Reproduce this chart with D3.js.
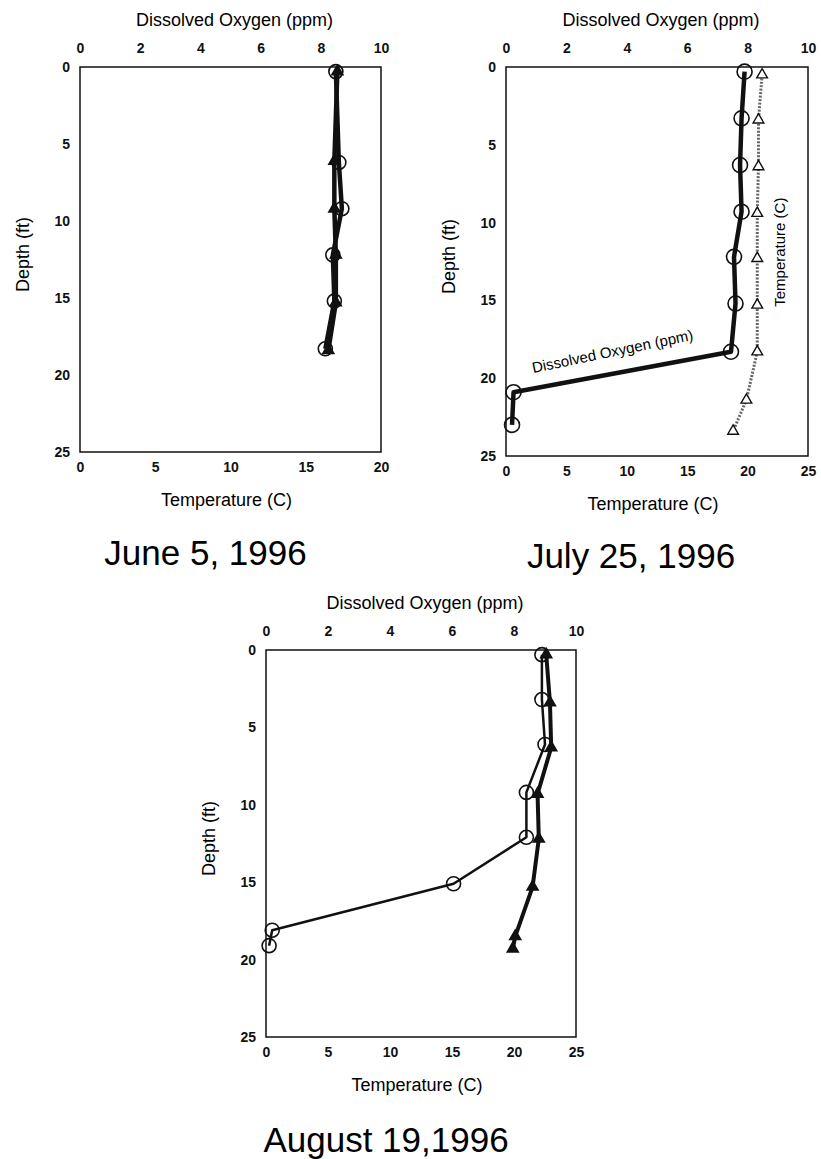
<!DOCTYPE html>
<html>
<head>
<meta charset="utf-8">
<script src="https://cdn.jsdelivr.net/npm/d3@7"></script>
<style>
  body { margin: 0; background: #fff; }
  svg { display: block; font-family: "Liberation Sans", Arial, sans-serif; }
</style>
</head>
<body>
<div id="chart"></div>
<script>
// depth profiles
const depthTicks = [0, 5, 10, 15, 20, 25];
const oxygenTicks = [0, 2, 4, 6, 8, 10];

const juneDepth = [0.3, 6.2, 9.2, 12.2, 15.2, 18.3];
const juneOxygen = [8.5, 8.6, 8.7, 8.4, 8.45, 8.15];
const juneTempDepth = [0.3, 6.1, 9.2, 12.2, 15.3, 18.4];
const juneTemp = [17.1, 16.9, 16.9, 17.0, 17.0, 16.5];
const juneTempTicks = [0, 5, 10, 15, 20];

const julyDepth = [0.3, 3.3, 6.3, 9.3, 12.2, 15.2, 18.3, 20.9, 23.0];
const julyOxygen = [7.9, 7.8, 7.75, 7.8, 7.55, 7.6, 7.45, 0.25, 0.2];
const julyTempDepth = [0.5, 3.4, 6.4, 9.4, 12.3, 15.3, 18.3, 21.4, 23.4];
const julyTemp = [21.2, 20.9, 20.9, 20.8, 20.8, 20.8, 20.8, 19.9, 18.8];
const julyTempTicks = [0, 5, 10, 15, 20, 25];

const augDepth = [0.3, 3.2, 6.1, 9.2, 12.1, 15.1, 18.1, 19.1];
const augOxygen = [8.9, 8.9, 9.0, 8.4, 8.4, 6.05, 0.2, 0.1];
const augTempDepth = [0.3, 3.4, 6.3, 9.3, 12.2, 15.3, 18.5, 19.3];
const augTemp = [22.6, 22.9, 23.0, 21.9, 22.0, 21.5, 20.1, 19.9];
const augTempTicks = [0, 5, 10, 15, 20, 25];

const svg = d3.select('#chart')
    .append('svg')
    .attr('width', 821)
    .attr('height', 1159);

function drawPanel(p) {
    const x = d3.scaleLinear().domain([0, 10]).range([p.left, p.right]);
    const t = d3.scaleLinear().domain([0, p.tempMax]).range([p.left, p.right]);
    const y = d3.scaleLinear().domain([0, 25]).range([p.top, p.bottom]);
    const midX = (p.left + p.right) / 2;

    const g = svg.append('g');

    g.append('rect')
        .attr('x', p.left)
        .attr('y', p.top)
        .attr('width', p.right - p.left)
        .attr('height', p.bottom - p.top)
        .style('fill', 'none')
        .style('stroke', '#111')
        .style('stroke-width', 1.5);

    const top = g.append('g')
        .attr('transform', `translate(0,${p.top})`)
        .call(d3.axisTop(x).tickValues(oxygenTicks).tickSize(0).tickPadding(14));
    const bottom = g.append('g')
        .attr('transform', `translate(0,${p.bottom})`)
        .call(d3.axisBottom(t).tickValues(p.tempTicks).tickSize(0).tickPadding(10));
    const left = g.append('g')
        .attr('transform', `translate(${p.left},0)`)
        .call(d3.axisLeft(y).tickValues(depthTicks).tickSize(0).tickPadding(10));

    [top, bottom, left].forEach(a => {
        a.select('.domain').remove();
        a.selectAll('text')
            .style('font-family', '"Liberation Sans", Arial, sans-serif')
            .style('font-size', '14px')
            .style('font-weight', 'bold')
            .style('fill', '#111');
    });

    g.append('text')
        .attr('x', midX + 4)
        .attr('y', p.top - 41)
        .attr('text-anchor', 'middle')
        .style('font-size', '18px')
        .text('Dissolved Oxygen (ppm)');

    g.append('text')
        .attr('x', midX - 4)
        .attr('y', p.bottom + 54)
        .attr('text-anchor', 'middle')
        .style('font-size', '18px')
        .text('Temperature (C)');

    g.append('text')
        .attr('transform', `translate(${p.left - 51},${(p.top + p.bottom) / 2 - 5}) rotate(-90)`)
        .attr('text-anchor', 'middle')
        .style('font-size', '18px')
        .text('Depth (ft)');

    g.append('text')
        .attr('x', midX + p.dateShift)
        .attr('y', p.bottom + p.dateDrop)
        .attr('text-anchor', 'middle')
        .style('font-size', '35px')
        .text(p.date);

    // temperature profile
    const tempPts = p.tempDepth.map((d, i) => [t(p.temp[i]), y(d)]);
    g.append('path')
        .datum(tempPts)
        .attr('d', d3.line())
        .style('fill', 'none')
        .style('stroke', p.tempColor)
        .style('stroke-width', p.tempWidth)
        .style('stroke-dasharray', p.tempDash)
        .style('stroke-linejoin', 'round');

    // dissolved oxygen profile
    const doPts = p.depth.map((d, i) => [x(p.oxygen[i]), y(d)]);
    g.append('path')
        .datum(doPts)
        .attr('d', d3.line())
        .style('fill', 'none')
        .style('stroke', '#111')
        .style('stroke-width', p.doWidth)
        .style('stroke-linejoin', 'round');

    g.selectAll('.do-mark')
        .data(doPts)
        .enter()
        .append('circle')
        .attr('cx', d => d[0])
        .attr('cy', d => d[1])
        .attr('r', p.r)
        .style('fill', 'none')
        .style('stroke', '#111')
        .style('stroke-width', 1.6);

    g.selectAll('.t-mark')
        .data(tempPts)
        .enter()
        .append('path')
        .attr('transform', d => `translate(${d[0]},${d[1]})`)
        .attr('d', d3.symbol(d3.symbolTriangle, p.triSize))
        .style('fill', p.triFill)
        .style('stroke', '#111')
        .style('stroke-width', 1.4);

    return { x, y };
}

drawPanel({
    left: 80, right: 381, top: 67, bottom: 452,
    tempMax: 20, tempTicks: juneTempTicks,
    depth: juneDepth, oxygen: juneOxygen,
    tempDepth: juneTempDepth, temp: juneTemp,
    doWidth: 4.5, tempWidth: 4.5, tempColor: '#111', tempDash: null,
    triFill: '#111', triSize: 55, r: 7,
    date: 'June 5, 1996', dateShift: -25, dateDrop: 113
});

const july = drawPanel({
    left: 506, right: 808, top: 67, bottom: 456,
    tempMax: 25, tempTicks: julyTempTicks,
    depth: julyDepth, oxygen: julyOxygen,
    tempDepth: julyTempDepth, temp: julyTemp,
    doWidth: 4.5, tempWidth: 3, tempColor: '#666', tempDash: '2,1.5',
    triFill: '#fff', triSize: 50, r: 7.5,
    date: 'July 25, 1996', dateShift: -26, dateDrop: 112
});

// labels written onto the July profile lines
svg.append('text')
    .attr('transform', `translate(${july.x(0.9)},${july.y(19.67)}) rotate(-11.7)`)
    .style('font-size', '15px')
    .text('Dissolved Oxygen (ppm)');

svg.append('text')
    .attr('transform', `translate(${july.x(9.25)},${july.y(11.9)}) rotate(-90)`)
    .attr('text-anchor', 'middle')
    .style('font-size', '15px')
    .text('Temperature (C)');

drawPanel({
    left: 266, right: 576, top: 650, bottom: 1037,
    tempMax: 25, tempTicks: augTempTicks,
    depth: augDepth, oxygen: augOxygen,
    tempDepth: augTempDepth, temp: augTemp,
    doWidth: 2.5, tempWidth: 4, tempColor: '#111', tempDash: null,
    triFill: '#111', triSize: 55, r: 7,
    date: 'August 19,1996', dateShift: -35, dateDrop: 115
});
</script>
</body>
</html>
